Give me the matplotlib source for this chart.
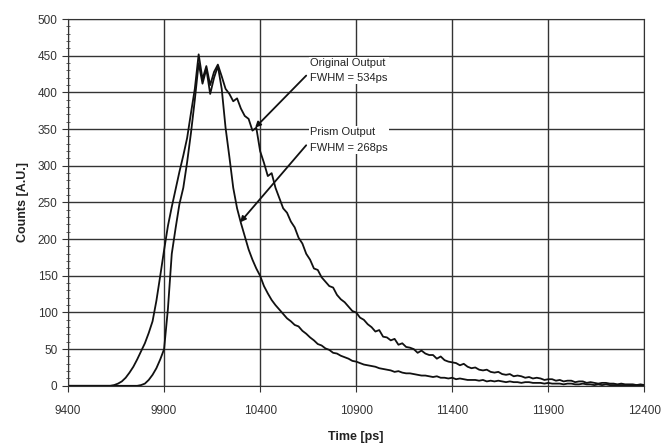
import matplotlib
matplotlib.use('Agg')
import matplotlib.pyplot as plt
import numpy as np

plt.rcParams['font.family'] = ['Liberation Sans', 'DejaVu Sans']

# time grid [ps], 20 ps steps
time = np.arange(9400, 12401, 20)

# original output counts
original = [
    0, 0, 0, 0, 0, 0, 0, 0, 0, 0,
    0, 0, 1, 3, 6, 11, 18, 26, 36, 47,
    58, 72, 88, 116, 150, 185, 218, 244, 268, 292,
    314, 338, 372, 405, 452, 418, 436, 410, 428, 438,
    422, 405, 398, 388, 392, 378, 368, 364, 348, 352,
    320, 304, 286, 290, 270, 256, 242, 236, 224, 216,
    202, 194, 180, 172, 160, 158, 148, 142, 136, 134,
    124, 118, 114, 108, 102, 100, 93, 90, 84, 80,
    74, 76, 67, 66, 62, 64, 56, 58, 53, 52,
    50, 45, 48, 44, 42, 42, 37, 40, 35, 33,
    32, 31, 28, 30, 26, 24, 25, 22, 21, 22,
    19, 18, 19, 16, 15, 16, 13, 14, 13, 11,
    12, 10, 11, 10, 8, 9, 9, 7, 8, 6,
    7, 7, 5, 6, 6, 4, 5, 4, 3, 4,
    4, 3, 3, 2, 3, 2, 2, 2, 1, 2,
    1,
]

# prism output counts
prism = [
    0, 0, 0, 0, 0, 0, 0, 0, 0, 0,
    0, 0, 0, 0, 0, 0, 0, 0, 0, 1,
    3, 8, 15, 24, 36, 50, 105, 180, 215, 248,
    270, 305, 345, 390, 440, 412, 432, 398, 420, 436,
    405, 352, 312, 270, 242, 222, 204, 186, 172, 160,
    150, 136, 126, 117, 110, 104, 98, 92, 88, 83,
    81, 75, 71, 66, 62, 57, 55, 51, 49, 45,
    44, 41, 39, 37, 34, 33, 31, 29, 28, 27,
    26, 24, 23, 22, 21, 19, 20, 18, 17, 17,
    16, 15, 14, 14, 13, 12, 13, 11, 11, 10,
    11, 9, 10, 9, 8, 8, 8, 7, 8, 6,
    7, 6, 7, 6, 5, 6, 5, 5, 4, 5,
    5, 4, 4, 4, 3, 4, 3, 3, 3, 2,
    3, 3, 2, 2, 3, 2, 2, 1, 2, 1,
    2, 1, 1, 1, 1, 1, 1, 0, 1, 0,
    1,
]

xticks = [9400, 9900, 10400, 10900, 11400, 11900, 12400]
yticks = list(range(0, 501, 50))

fig = plt.figure(figsize=(6.67, 4.45), dpi=100)
ax = fig.add_axes([0.102, 0.133, 0.864, 0.824])

ax.plot(time, original, color='#111111', lw=1.3)
ax.plot(time, prism, color='#111111', lw=1.3)

ax.set_xlim(9400, 12400)
ax.set_ylim(0, 500)
ax.set_xticks(xticks)
ax.set_yticks(yticks)
ax.set_yticks(range(0, 501, 10), minor=True)
ax.grid(True, which='major', color='#333333', lw=1.0)
ax.set_axisbelow(True)
ax.tick_params(axis='both', which='major', labelsize=8.5, colors='#333333', direction='out', length=4)
ax.tick_params(axis='x', which='major', pad=10)
ax.tick_params(axis='y', which='minor', direction='inout', length=3, color='#444444')
for s in ax.spines.values():
    s.set_color('#333333')

ax.set_xlabel('Time [ps]', fontsize=9, fontweight='bold', color='#222222', labelpad=10)
ax.set_ylabel('Counts [A.U.]', fontsize=9, fontweight='bold', color='#222222', labelpad=6)

ax.annotate('Original Output\nFWHM = 534ps', xy=(10374, 352), xytext=(10660, 430),
            fontsize=8, color='#222222', va='center', ha='left', linespacing=1.7,
            bbox=dict(boxstyle='square,pad=0.1', fc='white', ec='none'),
            arrowprops=dict(arrowstyle='-|>', color='#111111', lw=1.3,
                            shrinkA=0, shrinkB=0, relpos=(-0.05, 0.3)))
ax.annotate('Prism Output\nFWHM = 268ps', xy=(10296, 223), xytext=(10660, 335),
            fontsize=8, color='#222222', va='center', ha='left', linespacing=1.7,
            bbox=dict(boxstyle='square,pad=0.1', fc='white', ec='none'),
            arrowprops=dict(arrowstyle='-|>', color='#111111', lw=1.3,
                            shrinkA=0, shrinkB=0, relpos=(-0.05, 0.3)))

fig.savefig('out.png', dpi=100)
